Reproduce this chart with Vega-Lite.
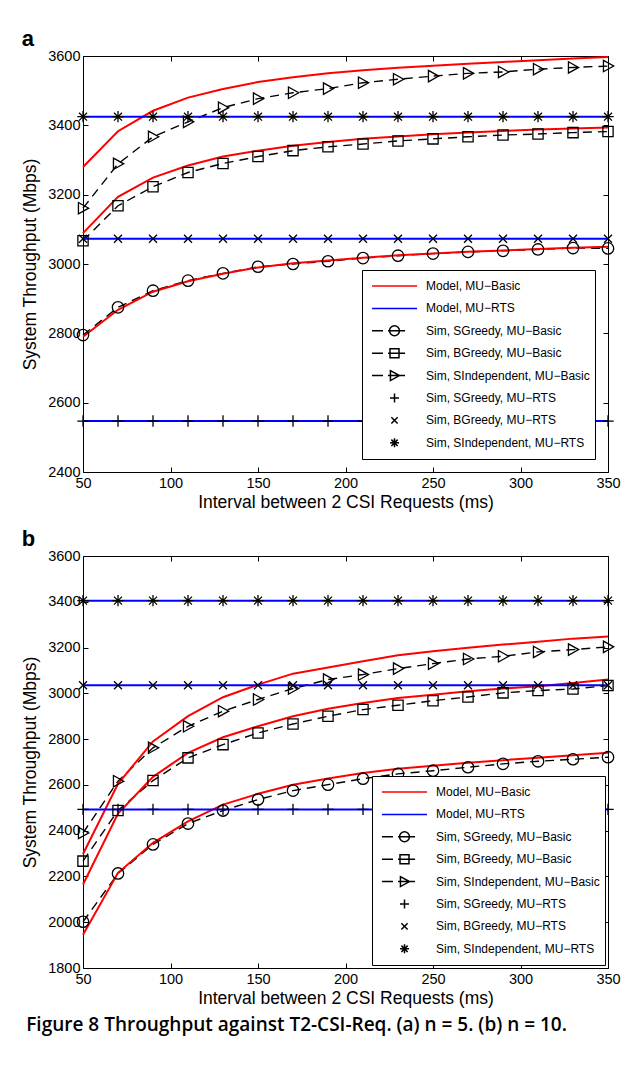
{
  "$schema": "https://vega.github.io/schema/vega-lite/v6.json",
  "background": "white",
  "padding": {"left": 21, "top": 27, "right": 5, "bottom": 5},
  "title": {"text": "Figure 8 Throughput against T2-CSI-Req. (a) n = 5. (b) n = 10.", "orient": "bottom", "anchor": "start", "frame": "bounds", "font": "Open Sans", "fontSize": 19, "fontWeight": 600, "offset": 8, "dx": 5, "color": "black"},
  "datasets": {
    "pa": [
      {"k":"m","s":"Model, MU−Basic","g":"SI","t":50,"v":3280},{"k":"m","s":"Model, MU−Basic","g":"SI","t":70,"v":3383},{"k":"m","s":"Model, MU−Basic","g":"SI","t":90,"v":3442},{"k":"m","s":"Model, MU−Basic","g":"SI","t":110,"v":3480},{"k":"m","s":"Model, MU−Basic","g":"SI","t":130,"v":3505},{"k":"m","s":"Model, MU−Basic","g":"SI","t":150,"v":3525},{"k":"m","s":"Model, MU−Basic","g":"SI","t":170,"v":3539},{"k":"m","s":"Model, MU−Basic","g":"SI","t":190,"v":3550},{"k":"m","s":"Model, MU−Basic","g":"SI","t":210,"v":3559},{"k":"m","s":"Model, MU−Basic","g":"SI","t":230,"v":3566},{"k":"m","s":"Model, MU−Basic","g":"SI","t":250,"v":3572},{"k":"m","s":"Model, MU−Basic","g":"SI","t":270,"v":3578},{"k":"m","s":"Model, MU−Basic","g":"SI","t":290,"v":3583},{"k":"m","s":"Model, MU−Basic","g":"SI","t":310,"v":3588},{"k":"m","s":"Model, MU−Basic","g":"SI","t":330,"v":3593},{"k":"m","s":"Model, MU−Basic","g":"SI","t":350,"v":3597},
      {"k":"m","s":"Model, MU−Basic","g":"BG","t":50,"v":3089},{"k":"m","s":"Model, MU−Basic","g":"BG","t":70,"v":3194},{"k":"m","s":"Model, MU−Basic","g":"BG","t":90,"v":3249},{"k":"m","s":"Model, MU−Basic","g":"BG","t":110,"v":3284},{"k":"m","s":"Model, MU−Basic","g":"BG","t":130,"v":3310},{"k":"m","s":"Model, MU−Basic","g":"BG","t":150,"v":3327},{"k":"m","s":"Model, MU−Basic","g":"BG","t":170,"v":3341},{"k":"m","s":"Model, MU−Basic","g":"BG","t":190,"v":3352},{"k":"m","s":"Model, MU−Basic","g":"BG","t":210,"v":3361},{"k":"m","s":"Model, MU−Basic","g":"BG","t":230,"v":3368},{"k":"m","s":"Model, MU−Basic","g":"BG","t":250,"v":3374},{"k":"m","s":"Model, MU−Basic","g":"BG","t":270,"v":3379},{"k":"m","s":"Model, MU−Basic","g":"BG","t":290,"v":3384},{"k":"m","s":"Model, MU−Basic","g":"BG","t":310,"v":3388},{"k":"m","s":"Model, MU−Basic","g":"BG","t":330,"v":3391},{"k":"m","s":"Model, MU−Basic","g":"BG","t":350,"v":3394},
      {"k":"m","s":"Model, MU−Basic","g":"SG","t":50,"v":2790},{"k":"m","s":"Model, MU−Basic","g":"SG","t":70,"v":2868},{"k":"m","s":"Model, MU−Basic","g":"SG","t":90,"v":2920},{"k":"m","s":"Model, MU−Basic","g":"SG","t":110,"v":2950},{"k":"m","s":"Model, MU−Basic","g":"SG","t":130,"v":2972},{"k":"m","s":"Model, MU−Basic","g":"SG","t":150,"v":2990},{"k":"m","s":"Model, MU−Basic","g":"SG","t":170,"v":3002},{"k":"m","s":"Model, MU−Basic","g":"SG","t":190,"v":3010},{"k":"m","s":"Model, MU−Basic","g":"SG","t":210,"v":3018},{"k":"m","s":"Model, MU−Basic","g":"SG","t":230,"v":3025},{"k":"m","s":"Model, MU−Basic","g":"SG","t":250,"v":3030},{"k":"m","s":"Model, MU−Basic","g":"SG","t":270,"v":3035},{"k":"m","s":"Model, MU−Basic","g":"SG","t":290,"v":3039},{"k":"m","s":"Model, MU−Basic","g":"SG","t":310,"v":3043},{"k":"m","s":"Model, MU−Basic","g":"SG","t":330,"v":3047},{"k":"m","s":"Model, MU−Basic","g":"SG","t":350,"v":3050},
      {"k":"m","s":"Model, MU−RTS","g":"SI","t":50,"v":3425},{"k":"m","s":"Model, MU−RTS","g":"SI","t":350,"v":3425},
      {"k":"m","s":"Model, MU−RTS","g":"BG","t":50,"v":3073},{"k":"m","s":"Model, MU−RTS","g":"BG","t":350,"v":3073},
      {"k":"m","s":"Model, MU−RTS","g":"SG","t":50,"v":2547},{"k":"m","s":"Model, MU−RTS","g":"SG","t":350,"v":2547},
      {"k":"b","s":"Sim, SGreedy, MU−Basic","t":50,"v":2795},{"k":"b","s":"Sim, SGreedy, MU−Basic","t":70,"v":2875},{"k":"b","s":"Sim, SGreedy, MU−Basic","t":90,"v":2923},{"k":"b","s":"Sim, SGreedy, MU−Basic","t":110,"v":2952},{"k":"b","s":"Sim, SGreedy, MU−Basic","t":130,"v":2973},{"k":"b","s":"Sim, SGreedy, MU−Basic","t":150,"v":2992},{"k":"b","s":"Sim, SGreedy, MU−Basic","t":170,"v":3000},{"k":"b","s":"Sim, SGreedy, MU−Basic","t":190,"v":3008},{"k":"b","s":"Sim, SGreedy, MU−Basic","t":210,"v":3017},{"k":"b","s":"Sim, SGreedy, MU−Basic","t":230,"v":3024},{"k":"b","s":"Sim, SGreedy, MU−Basic","t":250,"v":3030},{"k":"b","s":"Sim, SGreedy, MU−Basic","t":270,"v":3035},{"k":"b","s":"Sim, SGreedy, MU−Basic","t":290,"v":3038},{"k":"b","s":"Sim, SGreedy, MU−Basic","t":310,"v":3042},{"k":"b","s":"Sim, SGreedy, MU−Basic","t":330,"v":3046},{"k":"b","s":"Sim, SGreedy, MU−Basic","t":350,"v":3045},
      {"k":"b","s":"Sim, BGreedy, MU−Basic","t":50,"v":3067},{"k":"b","s":"Sim, BGreedy, MU−Basic","t":70,"v":3168},{"k":"b","s":"Sim, BGreedy, MU−Basic","t":90,"v":3223},{"k":"b","s":"Sim, BGreedy, MU−Basic","t":110,"v":3264},{"k":"b","s":"Sim, BGreedy, MU−Basic","t":130,"v":3290},{"k":"b","s":"Sim, BGreedy, MU−Basic","t":150,"v":3310},{"k":"b","s":"Sim, BGreedy, MU−Basic","t":170,"v":3327},{"k":"b","s":"Sim, BGreedy, MU−Basic","t":190,"v":3338},{"k":"b","s":"Sim, BGreedy, MU−Basic","t":210,"v":3346},{"k":"b","s":"Sim, BGreedy, MU−Basic","t":230,"v":3355},{"k":"b","s":"Sim, BGreedy, MU−Basic","t":250,"v":3361},{"k":"b","s":"Sim, BGreedy, MU−Basic","t":270,"v":3367},{"k":"b","s":"Sim, BGreedy, MU−Basic","t":290,"v":3372},{"k":"b","s":"Sim, BGreedy, MU−Basic","t":310,"v":3375},{"k":"b","s":"Sim, BGreedy, MU−Basic","t":330,"v":3379},{"k":"b","s":"Sim, BGreedy, MU−Basic","t":350,"v":3382},
      {"k":"b","s":"Sim, SIndependent, MU−Basic","t":50,"v":3161},{"k":"b","s":"Sim, SIndependent, MU−Basic","t":70,"v":3289},{"k":"b","s":"Sim, SIndependent, MU−Basic","t":90,"v":3367},{"k":"b","s":"Sim, SIndependent, MU−Basic","t":110,"v":3410},{"k":"b","s":"Sim, SIndependent, MU−Basic","t":130,"v":3451},{"k":"b","s":"Sim, SIndependent, MU−Basic","t":150,"v":3477},{"k":"b","s":"Sim, SIndependent, MU−Basic","t":170,"v":3494},{"k":"b","s":"Sim, SIndependent, MU−Basic","t":190,"v":3506},{"k":"b","s":"Sim, SIndependent, MU−Basic","t":210,"v":3523},{"k":"b","s":"Sim, SIndependent, MU−Basic","t":230,"v":3533},{"k":"b","s":"Sim, SIndependent, MU−Basic","t":250,"v":3542},{"k":"b","s":"Sim, SIndependent, MU−Basic","t":270,"v":3550},{"k":"b","s":"Sim, SIndependent, MU−Basic","t":290,"v":3554},{"k":"b","s":"Sim, SIndependent, MU−Basic","t":310,"v":3562},{"k":"b","s":"Sim, SIndependent, MU−Basic","t":330,"v":3567},{"k":"b","s":"Sim, SIndependent, MU−Basic","t":350,"v":3571},
      {"k":"r","s":"Sim, SGreedy, MU−RTS","t":50,"v":2547},{"k":"r","s":"Sim, SGreedy, MU−RTS","t":70,"v":2547},{"k":"r","s":"Sim, SGreedy, MU−RTS","t":90,"v":2547},{"k":"r","s":"Sim, SGreedy, MU−RTS","t":110,"v":2547},{"k":"r","s":"Sim, SGreedy, MU−RTS","t":130,"v":2547},{"k":"r","s":"Sim, SGreedy, MU−RTS","t":150,"v":2547},{"k":"r","s":"Sim, SGreedy, MU−RTS","t":170,"v":2547},{"k":"r","s":"Sim, SGreedy, MU−RTS","t":190,"v":2547},{"k":"r","s":"Sim, SGreedy, MU−RTS","t":210,"v":2547},{"k":"r","s":"Sim, SGreedy, MU−RTS","t":230,"v":2547},{"k":"r","s":"Sim, SGreedy, MU−RTS","t":250,"v":2547},{"k":"r","s":"Sim, SGreedy, MU−RTS","t":270,"v":2547},{"k":"r","s":"Sim, SGreedy, MU−RTS","t":290,"v":2547},{"k":"r","s":"Sim, SGreedy, MU−RTS","t":310,"v":2547},{"k":"r","s":"Sim, SGreedy, MU−RTS","t":330,"v":2547},{"k":"r","s":"Sim, SGreedy, MU−RTS","t":350,"v":2547},
      {"k":"r","s":"Sim, BGreedy, MU−RTS","t":50,"v":3073},{"k":"r","s":"Sim, BGreedy, MU−RTS","t":70,"v":3073},{"k":"r","s":"Sim, BGreedy, MU−RTS","t":90,"v":3073},{"k":"r","s":"Sim, BGreedy, MU−RTS","t":110,"v":3073},{"k":"r","s":"Sim, BGreedy, MU−RTS","t":130,"v":3073},{"k":"r","s":"Sim, BGreedy, MU−RTS","t":150,"v":3073},{"k":"r","s":"Sim, BGreedy, MU−RTS","t":170,"v":3073},{"k":"r","s":"Sim, BGreedy, MU−RTS","t":190,"v":3073},{"k":"r","s":"Sim, BGreedy, MU−RTS","t":210,"v":3073},{"k":"r","s":"Sim, BGreedy, MU−RTS","t":230,"v":3073},{"k":"r","s":"Sim, BGreedy, MU−RTS","t":250,"v":3073},{"k":"r","s":"Sim, BGreedy, MU−RTS","t":270,"v":3073},{"k":"r","s":"Sim, BGreedy, MU−RTS","t":290,"v":3073},{"k":"r","s":"Sim, BGreedy, MU−RTS","t":310,"v":3073},{"k":"r","s":"Sim, BGreedy, MU−RTS","t":330,"v":3073},{"k":"r","s":"Sim, BGreedy, MU−RTS","t":350,"v":3073},
      {"k":"r","s":"Sim, SIndependent, MU−RTS","t":50,"v":3425},{"k":"r","s":"Sim, SIndependent, MU−RTS","t":70,"v":3425},{"k":"r","s":"Sim, SIndependent, MU−RTS","t":90,"v":3425},{"k":"r","s":"Sim, SIndependent, MU−RTS","t":110,"v":3425},{"k":"r","s":"Sim, SIndependent, MU−RTS","t":130,"v":3425},{"k":"r","s":"Sim, SIndependent, MU−RTS","t":150,"v":3425},{"k":"r","s":"Sim, SIndependent, MU−RTS","t":170,"v":3425},{"k":"r","s":"Sim, SIndependent, MU−RTS","t":190,"v":3425},{"k":"r","s":"Sim, SIndependent, MU−RTS","t":210,"v":3425},{"k":"r","s":"Sim, SIndependent, MU−RTS","t":230,"v":3425},{"k":"r","s":"Sim, SIndependent, MU−RTS","t":250,"v":3425},{"k":"r","s":"Sim, SIndependent, MU−RTS","t":270,"v":3425},{"k":"r","s":"Sim, SIndependent, MU−RTS","t":290,"v":3425},{"k":"r","s":"Sim, SIndependent, MU−RTS","t":310,"v":3425},{"k":"r","s":"Sim, SIndependent, MU−RTS","t":330,"v":3425},{"k":"r","s":"Sim, SIndependent, MU−RTS","t":350,"v":3425}
    ],
    "pb": [
      {"k":"m","s":"Model, MU−Basic","g":"SI","t":50,"v":2298},{"k":"m","s":"Model, MU−Basic","g":"SI","t":70,"v":2605},{"k":"m","s":"Model, MU−Basic","g":"SI","t":90,"v":2790},{"k":"m","s":"Model, MU−Basic","g":"SI","t":110,"v":2900},{"k":"m","s":"Model, MU−Basic","g":"SI","t":130,"v":2983},{"k":"m","s":"Model, MU−Basic","g":"SI","t":150,"v":3038},{"k":"m","s":"Model, MU−Basic","g":"SI","t":170,"v":3086},{"k":"m","s":"Model, MU−Basic","g":"SI","t":190,"v":3113},{"k":"m","s":"Model, MU−Basic","g":"SI","t":210,"v":3140},{"k":"m","s":"Model, MU−Basic","g":"SI","t":230,"v":3166},{"k":"m","s":"Model, MU−Basic","g":"SI","t":250,"v":3184},{"k":"m","s":"Model, MU−Basic","g":"SI","t":270,"v":3199},{"k":"m","s":"Model, MU−Basic","g":"SI","t":290,"v":3213},{"k":"m","s":"Model, MU−Basic","g":"SI","t":310,"v":3225},{"k":"m","s":"Model, MU−Basic","g":"SI","t":330,"v":3239},{"k":"m","s":"Model, MU−Basic","g":"SI","t":350,"v":3248},
      {"k":"m","s":"Model, MU−Basic","g":"BG","t":50,"v":2165},{"k":"m","s":"Model, MU−Basic","g":"BG","t":70,"v":2475},{"k":"m","s":"Model, MU−Basic","g":"BG","t":90,"v":2635},{"k":"m","s":"Model, MU−Basic","g":"BG","t":110,"v":2740},{"k":"m","s":"Model, MU−Basic","g":"BG","t":130,"v":2808},{"k":"m","s":"Model, MU−Basic","g":"BG","t":150,"v":2856},{"k":"m","s":"Model, MU−Basic","g":"BG","t":170,"v":2900},{"k":"m","s":"Model, MU−Basic","g":"BG","t":190,"v":2933},{"k":"m","s":"Model, MU−Basic","g":"BG","t":210,"v":2958},{"k":"m","s":"Model, MU−Basic","g":"BG","t":230,"v":2980},{"k":"m","s":"Model, MU−Basic","g":"BG","t":250,"v":2994},{"k":"m","s":"Model, MU−Basic","g":"BG","t":270,"v":3009},{"k":"m","s":"Model, MU−Basic","g":"BG","t":290,"v":3021},{"k":"m","s":"Model, MU−Basic","g":"BG","t":310,"v":3031},{"k":"m","s":"Model, MU−Basic","g":"BG","t":330,"v":3045},{"k":"m","s":"Model, MU−Basic","g":"BG","t":350,"v":3060},
      {"k":"m","s":"Model, MU−Basic","g":"SG","t":50,"v":1945},{"k":"m","s":"Model, MU−Basic","g":"SG","t":70,"v":2216},{"k":"m","s":"Model, MU−Basic","g":"SG","t":90,"v":2347},{"k":"m","s":"Model, MU−Basic","g":"SG","t":110,"v":2441},{"k":"m","s":"Model, MU−Basic","g":"SG","t":130,"v":2514},{"k":"m","s":"Model, MU−Basic","g":"SG","t":150,"v":2561},{"k":"m","s":"Model, MU−Basic","g":"SG","t":170,"v":2601},{"k":"m","s":"Model, MU−Basic","g":"SG","t":190,"v":2628},{"k":"m","s":"Model, MU−Basic","g":"SG","t":210,"v":2652},{"k":"m","s":"Model, MU−Basic","g":"SG","t":230,"v":2670},{"k":"m","s":"Model, MU−Basic","g":"SG","t":250,"v":2684},{"k":"m","s":"Model, MU−Basic","g":"SG","t":270,"v":2697},{"k":"m","s":"Model, MU−Basic","g":"SG","t":290,"v":2708},{"k":"m","s":"Model, MU−Basic","g":"SG","t":310,"v":2719},{"k":"m","s":"Model, MU−Basic","g":"SG","t":330,"v":2730},{"k":"m","s":"Model, MU−Basic","g":"SG","t":350,"v":2740},
      {"k":"m","s":"Model, MU−RTS","g":"SI","t":50,"v":3405},{"k":"m","s":"Model, MU−RTS","g":"SI","t":350,"v":3405},
      {"k":"m","s":"Model, MU−RTS","g":"BG","t":50,"v":3035},{"k":"m","s":"Model, MU−RTS","g":"BG","t":350,"v":3035},
      {"k":"m","s":"Model, MU−RTS","g":"SG","t":50,"v":2493},{"k":"m","s":"Model, MU−RTS","g":"SG","t":350,"v":2493},
      {"k":"b","s":"Sim, SGreedy, MU−Basic","t":50,"v":2002},{"k":"b","s":"Sim, SGreedy, MU−Basic","t":70,"v":2213},{"k":"b","s":"Sim, SGreedy, MU−Basic","t":90,"v":2340},{"k":"b","s":"Sim, SGreedy, MU−Basic","t":110,"v":2431},{"k":"b","s":"Sim, SGreedy, MU−Basic","t":130,"v":2488},{"k":"b","s":"Sim, SGreedy, MU−Basic","t":150,"v":2536},{"k":"b","s":"Sim, SGreedy, MU−Basic","t":170,"v":2575},{"k":"b","s":"Sim, SGreedy, MU−Basic","t":190,"v":2601},{"k":"b","s":"Sim, SGreedy, MU−Basic","t":210,"v":2627},{"k":"b","s":"Sim, SGreedy, MU−Basic","t":230,"v":2648},{"k":"b","s":"Sim, SGreedy, MU−Basic","t":250,"v":2662},{"k":"b","s":"Sim, SGreedy, MU−Basic","t":270,"v":2677},{"k":"b","s":"Sim, SGreedy, MU−Basic","t":290,"v":2692},{"k":"b","s":"Sim, SGreedy, MU−Basic","t":310,"v":2703},{"k":"b","s":"Sim, SGreedy, MU−Basic","t":330,"v":2712},{"k":"b","s":"Sim, SGreedy, MU−Basic","t":350,"v":2721},
      {"k":"b","s":"Sim, BGreedy, MU−Basic","t":50,"v":2267},{"k":"b","s":"Sim, BGreedy, MU−Basic","t":70,"v":2488},{"k":"b","s":"Sim, BGreedy, MU−Basic","t":90,"v":2619},{"k":"b","s":"Sim, BGreedy, MU−Basic","t":110,"v":2718},{"k":"b","s":"Sim, BGreedy, MU−Basic","t":130,"v":2776},{"k":"b","s":"Sim, BGreedy, MU−Basic","t":150,"v":2827},{"k":"b","s":"Sim, BGreedy, MU−Basic","t":170,"v":2866},{"k":"b","s":"Sim, BGreedy, MU−Basic","t":190,"v":2900},{"k":"b","s":"Sim, BGreedy, MU−Basic","t":210,"v":2929},{"k":"b","s":"Sim, BGreedy, MU−Basic","t":230,"v":2948},{"k":"b","s":"Sim, BGreedy, MU−Basic","t":250,"v":2968},{"k":"b","s":"Sim, BGreedy, MU−Basic","t":270,"v":2984},{"k":"b","s":"Sim, BGreedy, MU−Basic","t":290,"v":3002},{"k":"b","s":"Sim, BGreedy, MU−Basic","t":310,"v":3012},{"k":"b","s":"Sim, BGreedy, MU−Basic","t":330,"v":3019},{"k":"b","s":"Sim, BGreedy, MU−Basic","t":350,"v":3034},
      {"k":"b","s":"Sim, SIndependent, MU−Basic","t":50,"v":2390},{"k":"b","s":"Sim, SIndependent, MU−Basic","t":70,"v":2616},{"k":"b","s":"Sim, SIndependent, MU−Basic","t":90,"v":2762},{"k":"b","s":"Sim, SIndependent, MU−Basic","t":110,"v":2856},{"k":"b","s":"Sim, SIndependent, MU−Basic","t":130,"v":2922},{"k":"b","s":"Sim, SIndependent, MU−Basic","t":150,"v":2973},{"k":"b","s":"Sim, SIndependent, MU−Basic","t":170,"v":3021},{"k":"b","s":"Sim, SIndependent, MU−Basic","t":190,"v":3060},{"k":"b","s":"Sim, SIndependent, MU−Basic","t":210,"v":3082},{"k":"b","s":"Sim, SIndependent, MU−Basic","t":230,"v":3108},{"k":"b","s":"Sim, SIndependent, MU−Basic","t":250,"v":3130},{"k":"b","s":"Sim, SIndependent, MU−Basic","t":270,"v":3150},{"k":"b","s":"Sim, SIndependent, MU−Basic","t":290,"v":3162},{"k":"b","s":"Sim, SIndependent, MU−Basic","t":310,"v":3181},{"k":"b","s":"Sim, SIndependent, MU−Basic","t":330,"v":3191},{"k":"b","s":"Sim, SIndependent, MU−Basic","t":350,"v":3203},
      {"k":"r","s":"Sim, SGreedy, MU−RTS","t":50,"v":2493},{"k":"r","s":"Sim, SGreedy, MU−RTS","t":70,"v":2493},{"k":"r","s":"Sim, SGreedy, MU−RTS","t":90,"v":2493},{"k":"r","s":"Sim, SGreedy, MU−RTS","t":110,"v":2493},{"k":"r","s":"Sim, SGreedy, MU−RTS","t":130,"v":2493},{"k":"r","s":"Sim, SGreedy, MU−RTS","t":150,"v":2493},{"k":"r","s":"Sim, SGreedy, MU−RTS","t":170,"v":2493},{"k":"r","s":"Sim, SGreedy, MU−RTS","t":190,"v":2493},{"k":"r","s":"Sim, SGreedy, MU−RTS","t":210,"v":2493},{"k":"r","s":"Sim, SGreedy, MU−RTS","t":230,"v":2493},{"k":"r","s":"Sim, SGreedy, MU−RTS","t":250,"v":2493},{"k":"r","s":"Sim, SGreedy, MU−RTS","t":270,"v":2493},{"k":"r","s":"Sim, SGreedy, MU−RTS","t":290,"v":2493},{"k":"r","s":"Sim, SGreedy, MU−RTS","t":310,"v":2493},{"k":"r","s":"Sim, SGreedy, MU−RTS","t":330,"v":2493},{"k":"r","s":"Sim, SGreedy, MU−RTS","t":350,"v":2493},
      {"k":"r","s":"Sim, BGreedy, MU−RTS","t":50,"v":3035},{"k":"r","s":"Sim, BGreedy, MU−RTS","t":70,"v":3035},{"k":"r","s":"Sim, BGreedy, MU−RTS","t":90,"v":3035},{"k":"r","s":"Sim, BGreedy, MU−RTS","t":110,"v":3035},{"k":"r","s":"Sim, BGreedy, MU−RTS","t":130,"v":3035},{"k":"r","s":"Sim, BGreedy, MU−RTS","t":150,"v":3035},{"k":"r","s":"Sim, BGreedy, MU−RTS","t":170,"v":3035},{"k":"r","s":"Sim, BGreedy, MU−RTS","t":190,"v":3035},{"k":"r","s":"Sim, BGreedy, MU−RTS","t":210,"v":3035},{"k":"r","s":"Sim, BGreedy, MU−RTS","t":230,"v":3035},{"k":"r","s":"Sim, BGreedy, MU−RTS","t":250,"v":3035},{"k":"r","s":"Sim, BGreedy, MU−RTS","t":270,"v":3035},{"k":"r","s":"Sim, BGreedy, MU−RTS","t":290,"v":3035},{"k":"r","s":"Sim, BGreedy, MU−RTS","t":310,"v":3035},{"k":"r","s":"Sim, BGreedy, MU−RTS","t":330,"v":3035},{"k":"r","s":"Sim, BGreedy, MU−RTS","t":350,"v":3035},
      {"k":"r","s":"Sim, SIndependent, MU−RTS","t":50,"v":3405},{"k":"r","s":"Sim, SIndependent, MU−RTS","t":70,"v":3405},{"k":"r","s":"Sim, SIndependent, MU−RTS","t":90,"v":3405},{"k":"r","s":"Sim, SIndependent, MU−RTS","t":110,"v":3405},{"k":"r","s":"Sim, SIndependent, MU−RTS","t":130,"v":3405},{"k":"r","s":"Sim, SIndependent, MU−RTS","t":150,"v":3405},{"k":"r","s":"Sim, SIndependent, MU−RTS","t":170,"v":3405},{"k":"r","s":"Sim, SIndependent, MU−RTS","t":190,"v":3405},{"k":"r","s":"Sim, SIndependent, MU−RTS","t":210,"v":3405},{"k":"r","s":"Sim, SIndependent, MU−RTS","t":230,"v":3405},{"k":"r","s":"Sim, SIndependent, MU−RTS","t":250,"v":3405},{"k":"r","s":"Sim, SIndependent, MU−RTS","t":270,"v":3405},{"k":"r","s":"Sim, SIndependent, MU−RTS","t":290,"v":3405},{"k":"r","s":"Sim, SIndependent, MU−RTS","t":310,"v":3405},{"k":"r","s":"Sim, SIndependent, MU−RTS","t":330,"v":3405},{"k":"r","s":"Sim, SIndependent, MU−RTS","t":350,"v":3405}
    ]
  },
  "spacing": 15,
  "resolve": {"scale": {"color": "independent", "shape": "independent"}, "legend": {"color": "independent", "shape": "independent"}},
  "vconcat": [
    {
      "data": {"name": "pa"},
      "width": 525,
      "height": 416,
      "title": {"text": "a"},
      "layer": [
        {
          "transform": [{"filter": "datum.k == 'b'"}],
          "mark": {"type": "line", "color": "black", "strokeWidth": 1.4, "strokeDash": [9, 6]},
          "encoding": {
            "x": {"field": "t", "type": "quantitative", "scale": {"domain": [50, 350], "nice": false, "zero": false}, "axis": {"orient": "bottom", "values": [50, 100, 150, 200, 250, 300, 350], "format": "d", "title": "Interval between 2 CSI Requests (ms)"}},
            "y": {"field": "v", "type": "quantitative", "scale": {"domain": [2400, 3600], "nice": false, "zero": false}, "axis": {"orient": "left", "values": [2400, 2600, 2800, 3000, 3200, 3400, 3600], "format": "d", "title": "System Throughput (Mbps)"}},
            "detail": {"field": "s"}
          }
        },
        {
          "transform": [{"filter": "datum.k == 'm'"}],
          "mark": {"type": "line", "strokeWidth": 2},
          "encoding": {
            "x": {"field": "t", "type": "quantitative", "axis": {"orient": "top", "values": [50, 100, 150, 200, 250, 300, 350], "labels": false, "title": null}},
            "y": {"field": "v", "type": "quantitative", "axis": {"orient": "right", "values": [2400, 2600, 2800, 3000, 3200, 3400, 3600], "labels": false, "title": null}},
            "detail": {"field": "g"},
            "color": {"field": "s", "type": "nominal", "legend": null,
              "scale": {"domain": ["Model, MU−Basic", "Model, MU−RTS"], "range": ["#ff0000", "#0000ff"]}}
          }
        },
        {
          "transform": [{"filter": "datum.k != 'm'"}],
          "mark": {"type": "point", "filled": false, "color": "black", "strokeWidth": 1.3, "size": 130, "opacity": 1},
          "encoding": {
            "x": {"field": "t", "type": "quantitative", "axis": null},
            "y": {"field": "v", "type": "quantitative", "axis": null},
            "shape": {"field": "s", "type": "nominal", "legend": null,
              "scale": {"domain": ["Sim, SGreedy, MU−Basic", "Sim, BGreedy, MU−Basic", "Sim, SIndependent, MU−Basic", "Sim, SGreedy, MU−RTS", "Sim, BGreedy, MU−RTS", "Sim, SIndependent, MU−RTS"],
                "range": ["M1,0A1,1,0,1,1,-1,0A1,1,0,1,1,1,0Z", "M-0.9,-0.9H0.9V0.9H-0.9Z", "M-0.8,-1L1,0L-0.8,1Z", "M-1,0H1M0,-1V1", "M-0.7,-0.7L0.7,0.7M-0.7,0.7L0.7,-0.7", "M-1,0H1M0,-1V1M-0.7,-0.7L0.7,0.7M-0.7,0.7L0.7,-0.7"]}}
          }
        },
        {
          "transform": [{"filter": "datum.k == 'none'"}],
          "mark": {"type": "point", "filled": false, "strokeWidth": 1.5, "size": 2025, "opacity": 1},
          "encoding": {
            "x": {"field": "t", "type": "quantitative", "axis": null},
            "y": {"field": "v", "type": "quantitative", "axis": null},
            "color": {"field": "s", "type": "nominal",
              "scale": {"domain": ["Model, MU−Basic", "Model, MU−RTS", "Sim, SGreedy, MU−Basic", "Sim, BGreedy, MU−Basic", "Sim, SIndependent, MU−Basic", "Sim, SGreedy, MU−RTS", "Sim, BGreedy, MU−RTS", "Sim, SIndependent, MU−RTS"], "range": ["#ff0000", "#0000ff", "#000000", "#000000", "#000000", "#000000", "#000000", "#000000"]},
              "legend": {"title": null, "orient": "bottom-right", "offset": 13, "symbolSize": 2025, "symbolStrokeWidth": 1.5, "clipHeight": 22, "rowPadding": 0.4, "symbolOffset": 4, "labelOffset": 8, "padding": 5, "labelFont": "Liberation Sans", "labelFontSize": 12, "labelColor": "black", "labelLimit": 400, "strokeColor": "black", "fillColor": "white"}},
            "shape": {"field": "s", "type": "nominal",
              "scale": {"domain": ["Model, MU−Basic", "Model, MU−RTS", "Sim, SGreedy, MU−Basic", "Sim, BGreedy, MU−Basic", "Sim, SIndependent, MU−Basic", "Sim, SGreedy, MU−RTS", "Sim, BGreedy, MU−RTS", "Sim, SIndependent, MU−RTS"],
                "range": ["M-1,0H1", "M-1,0H1", "M-1,0H-0.51M-0.29,0H0.47M0.22,0A0.22,0.22,0,1,1,-0.22,0A0.22,0.22,0,1,1,0.22,0", "M-1,0H-0.51M-0.29,0H0.47M-0.2,-0.2H0.2V0.2H-0.2Z", "M-1,0H-0.51M-0.29,0H0.47M-0.18,-0.22L0.22,0L-0.18,0.22Z", "M-0.2,0H0.2M0,-0.2V0.2", "M-0.14,-0.14L0.14,0.14M-0.14,0.14L0.14,-0.14", "M-0.2,0H0.2M0,-0.2V0.2M-0.14,-0.14L0.14,0.14M-0.14,0.14L0.14,-0.14"]},
              "legend": {"title": null, "orient": "bottom-right", "offset": 13, "symbolSize": 2025, "symbolStrokeWidth": 1.5, "clipHeight": 22, "rowPadding": 0.4, "symbolOffset": 4, "labelOffset": 8, "padding": 5, "labelFont": "Liberation Sans", "labelFontSize": 12, "labelColor": "black", "labelLimit": 400, "strokeColor": "black", "fillColor": "white"}}
          }
        }
      ],
      "resolve": {"axis": {"x": "independent", "y": "independent"}, "scale": {"shape": "independent", "color": "independent"}}
    },
    {
      "data": {"name": "pb"},
      "width": 525,
      "height": 412,
      "title": {"text": "b"},
      "layer": [
        {
          "transform": [{"filter": "datum.k == 'b'"}],
          "mark": {"type": "line", "color": "black", "strokeWidth": 1.4, "strokeDash": [9, 6]},
          "encoding": {
            "x": {"field": "t", "type": "quantitative", "scale": {"domain": [50, 350], "nice": false, "zero": false}, "axis": {"orient": "bottom", "values": [50, 100, 150, 200, 250, 300, 350], "format": "d", "title": "Interval between 2 CSI Requests (ms)"}},
            "y": {"field": "v", "type": "quantitative", "scale": {"domain": [1800, 3600], "nice": false, "zero": false}, "axis": {"orient": "left", "values": [1800, 2000, 2200, 2400, 2600, 2800, 3000, 3200, 3400, 3600], "format": "d", "title": "System Throughput (Mbps)"}},
            "detail": {"field": "s"}
          }
        },
        {
          "transform": [{"filter": "datum.k == 'm'"}],
          "mark": {"type": "line", "strokeWidth": 2},
          "encoding": {
            "x": {"field": "t", "type": "quantitative", "axis": {"orient": "top", "values": [50, 100, 150, 200, 250, 300, 350], "labels": false, "title": null}},
            "y": {"field": "v", "type": "quantitative", "axis": {"orient": "right", "values": [1800, 2000, 2200, 2400, 2600, 2800, 3000, 3200, 3400, 3600], "labels": false, "title": null}},
            "detail": {"field": "g"},
            "color": {"field": "s", "type": "nominal", "legend": null,
              "scale": {"domain": ["Model, MU−Basic", "Model, MU−RTS"], "range": ["#ff0000", "#0000ff"]}}
          }
        },
        {
          "transform": [{"filter": "datum.k != 'm'"}],
          "mark": {"type": "point", "filled": false, "color": "black", "strokeWidth": 1.3, "size": 130, "opacity": 1},
          "encoding": {
            "x": {"field": "t", "type": "quantitative", "axis": null},
            "y": {"field": "v", "type": "quantitative", "axis": null},
            "shape": {"field": "s", "type": "nominal", "legend": null,
              "scale": {"domain": ["Sim, SGreedy, MU−Basic", "Sim, BGreedy, MU−Basic", "Sim, SIndependent, MU−Basic", "Sim, SGreedy, MU−RTS", "Sim, BGreedy, MU−RTS", "Sim, SIndependent, MU−RTS"],
                "range": ["M1,0A1,1,0,1,1,-1,0A1,1,0,1,1,1,0Z", "M-0.9,-0.9H0.9V0.9H-0.9Z", "M-0.8,-1L1,0L-0.8,1Z", "M-1,0H1M0,-1V1", "M-0.7,-0.7L0.7,0.7M-0.7,0.7L0.7,-0.7", "M-1,0H1M0,-1V1M-0.7,-0.7L0.7,0.7M-0.7,0.7L0.7,-0.7"]}}
          }
        },
        {
          "transform": [{"filter": "datum.k == 'none'"}],
          "mark": {"type": "point", "filled": false, "strokeWidth": 1.5, "size": 2025, "opacity": 1},
          "encoding": {
            "x": {"field": "t", "type": "quantitative", "axis": null},
            "y": {"field": "v", "type": "quantitative", "axis": null},
            "color": {"field": "s", "type": "nominal",
              "scale": {"domain": ["Model, MU−Basic", "Model, MU−RTS", "Sim, SGreedy, MU−Basic", "Sim, BGreedy, MU−Basic", "Sim, SIndependent, MU−Basic", "Sim, SGreedy, MU−RTS", "Sim, BGreedy, MU−RTS", "Sim, SIndependent, MU−RTS"], "range": ["#ff0000", "#0000ff", "#000000", "#000000", "#000000", "#000000", "#000000", "#000000"]},
              "legend": {"title": null, "orient": "bottom-right", "offset": 3, "symbolSize": 2025, "symbolStrokeWidth": 1.5, "clipHeight": 22, "rowPadding": 0.4, "symbolOffset": 4, "labelOffset": 8, "padding": 5, "labelFont": "Liberation Sans", "labelFontSize": 12, "labelColor": "black", "labelLimit": 400, "strokeColor": "black", "fillColor": "white"}},
            "shape": {"field": "s", "type": "nominal",
              "scale": {"domain": ["Model, MU−Basic", "Model, MU−RTS", "Sim, SGreedy, MU−Basic", "Sim, BGreedy, MU−Basic", "Sim, SIndependent, MU−Basic", "Sim, SGreedy, MU−RTS", "Sim, BGreedy, MU−RTS", "Sim, SIndependent, MU−RTS"],
                "range": ["M-1,0H1", "M-1,0H1", "M-1,0H-0.51M-0.29,0H0.47M0.22,0A0.22,0.22,0,1,1,-0.22,0A0.22,0.22,0,1,1,0.22,0", "M-1,0H-0.51M-0.29,0H0.47M-0.2,-0.2H0.2V0.2H-0.2Z", "M-1,0H-0.51M-0.29,0H0.47M-0.18,-0.22L0.22,0L-0.18,0.22Z", "M-0.2,0H0.2M0,-0.2V0.2", "M-0.14,-0.14L0.14,0.14M-0.14,0.14L0.14,-0.14", "M-0.2,0H0.2M0,-0.2V0.2M-0.14,-0.14L0.14,0.14M-0.14,0.14L0.14,-0.14"]},
              "legend": {"title": null, "orient": "bottom-right", "offset": 3, "symbolSize": 2025, "symbolStrokeWidth": 1.5, "clipHeight": 22, "rowPadding": 0.4, "symbolOffset": 4, "labelOffset": 8, "padding": 5, "labelFont": "Liberation Sans", "labelFontSize": 12, "labelColor": "black", "labelLimit": 400, "strokeColor": "black", "fillColor": "white"}}
          }
        }
      ],
      "resolve": {"axis": {"x": "independent", "y": "independent"}, "scale": {"shape": "independent", "color": "independent"}}
    }
  ],
  "config": {
    "font": "Liberation Sans",
    "view": {"stroke": "black", "strokeWidth": 1},
    "axis": {"grid": false, "domain": false, "ticks": true, "tickSize": -5, "tickColor": "black", "tickWidth": 1, "labelFont": "Liberation Sans", "labelFontSize": 14.5, "labelColor": "black", "labelPadding": 8, "labelFlush": false, "labelOverlap": false, "titleFont": "Liberation Sans", "titleFontSize": 17.5, "titleFontWeight": "normal", "titleColor": "black"},
    "axisX": {"labelPadding": 9, "titlePadding": 4},
    "axisY": {"titlePadding": 8},
    "title": {"font": "Liberation Sans", "fontSize": 22, "fontWeight": "bold", "anchor": "start", "frame": "bounds", "color": "black", "offset": -3}
  }
}
